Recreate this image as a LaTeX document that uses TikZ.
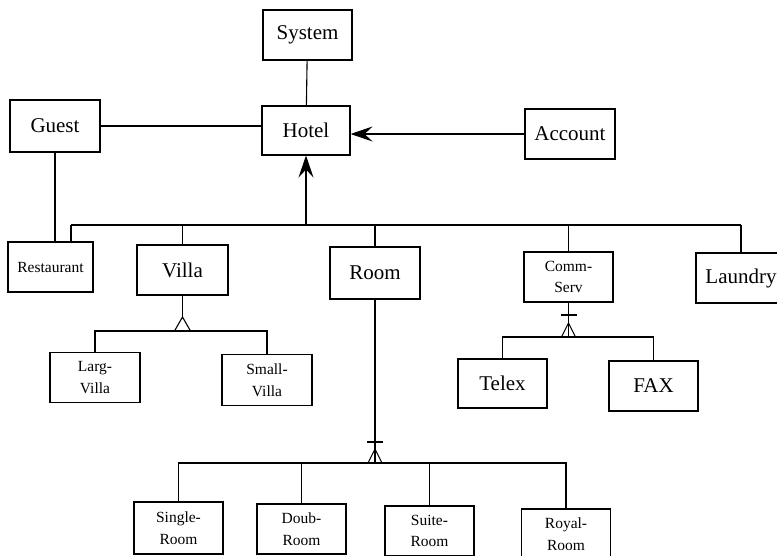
\documentclass[tikz,border=0pt]{standalone}
\usepackage{fontspec}
\setmainfont{Liberation Serif}
\usetikzlibrary{arrows.meta}
\begin{document}
\begin{tikzpicture}[x=1pt,y=-1pt,line width=1.1pt,
  entity/.style={draw,minimum width=89pt,minimum height=50pt,inner sep=0pt,
    align=center,font=\fontsize{21}{24}\selectfont},
  small/.style={entity,font=\fontsize{15.5}{21.5}\selectfont},
  arr/.style={-{Stealth[length=22pt,width=15pt,inset=8pt]}},
  link/.style={draw}]
\useasboundingbox (0,0) rectangle (777,555);

% top level
\node[entity] (sys) at (307.5,35) {System};
\node[entity,minimum width=88pt,minimum height=49pt] (hotel) at (306,130.5) {Hotel};
\node[entity,minimum width=90pt,minimum height=52pt] (guest) at (55,126) {Guest};
\node[entity,minimum width=90pt] (account) at (570,134) {Account};

% second level
\node[small,minimum width=85pt] (rest) at (50.5,267) {Restaurant};
\node[entity,minimum width=91pt] (villa) at (182.5,270) {Villa};
\node[entity,minimum width=90pt,minimum height=52pt] (room) at (375,273) {Room};
\node[small] (comm) at (568.5,277) {Comm-\\Serv};
\node[entity,minimum width=90pt] (laundry) at (741,278) {Laundry};

% villa kinds
\node[small,minimum width=90pt] (larg) at (95,377.5) {Larg-\\Villa};
\node[small,minimum width=90pt,minimum height=51pt] (smallv) at (267,380) {Small-\\Villa};

% communication services
\node[entity,minimum height=49pt] (telex) at (502.5,383.5) {Telex};
\node[entity] (fax) at (653.5,386) {FAX};

% room kinds
\node[small,minimum height=52pt] (single) at (178.5,528) {Single-\\Room};
\node[small] (doub) at (301.5,529) {Doub-\\Room};
\node[small] (suite) at (429.5,531) {Suite-\\Room};
\node[small] (royal) at (566,534) {Royal-\\Room};

% associations of the hotel
\draw (sys) -- (hotel);
\draw (guest.east) -- (guest.east -| hotel.west);
\draw[arr] (account.west) -- (account.west -| hotel.east);
\draw (guest.south) -- (guest.south |- rest.north);

% aggregation bus below the hotel
\coordinate (busL) at (71,225);
\coordinate (busR) at (741,225);
\draw (busL) -- (busR);
\draw[arr] (hotel.south |- busL) -- (hotel.south);
\draw (busL) -- (busL |- rest.north);
\draw (villa.north |- busL) -- (villa.north);
\draw (room.north |- busL) -- (room.north);
\draw (comm.north |- busL) -- (comm.north);
\draw (laundry.north |- busR) -- (laundry.north);

% villa generalisation
\coordinate (vj) at (182.5,331);
\draw (villa.south) -- ++(0,22);
\draw (vj) ++(-8,0) -- ++(8,-14) -- ++(8,14);
\draw (larg.north) |- (vj) -| (smallv.north);

% communication service generalisation
\coordinate (cj) at (568.5,337);
\draw (comm.south) -- (cj);
\draw (cj) ++(-8,-22) -- ++(16,0);
\draw (cj) ++(-7,0) -- ++(7,-14) -- ++(7,14);
\draw (telex.north) |- (cj) -| (fax.north);

% room generalisation
\coordinate (rj) at (375,463);
\draw (room.south) -- (rj);
\draw (rj) ++(-8,-21) -- ++(16,0);
\draw (rj) ++(-7,0) -- ++(7,-14) -- ++(7,14);
\draw (single.north) |- (rj) -| (royal.north);
\draw (doub.north) -- (doub.north |- rj);
\draw (suite.north) -- (suite.north |- rj);
\end{tikzpicture}
\end{document}
